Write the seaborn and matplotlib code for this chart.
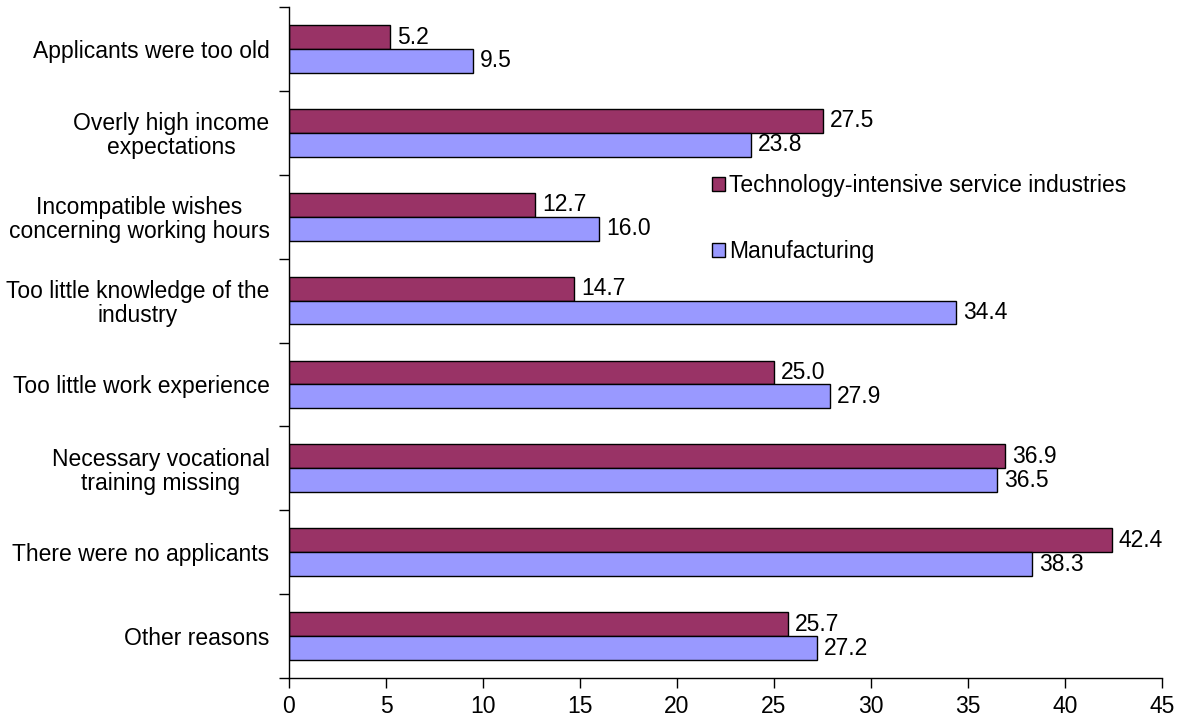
import matplotlib
matplotlib.use("Agg")
import matplotlib.pyplot as plt
import seaborn as sns
import pandas as pd
import numpy as np

categories = [
    "Applicants were too old",
    "Overly high income\nexpectations",
    "Incompatible wishes\nconcerning working hours",
    "Too little knowledge of the\nindustry",
    "Too little work experience",
    "Necessary vocational\ntraining missing",
    "There were no applicants",
    "Other reasons",
]
series_names = ["Technology-intensive service industries", "Manufacturing"]
tech_values = [5.2, 27.5, 12.7, 14.7, 25.0, 36.9, 42.4, 25.7]
manu_values = [9.5, 23.8, 16.0, 34.4, 27.9, 36.5, 38.3, 27.2]
x_ticks = [0, 5, 10, 15, 20, 25, 30, 35, 40, 45]
colors = ["#993366", "#9999FF"]

df = pd.DataFrame({
    "category": categories * 2,
    "series": [series_names[0]] * len(categories) + [series_names[1]] * len(categories),
    "value": tech_values + manu_values,
})

sns.set_style("white")
plt.rcParams["font.family"] = ["Liberation Sans", "DejaVu Sans"]
plt.rcParams["text.color"] = "black"
plt.rcParams["xtick.color"] = "black"
plt.rcParams["ytick.color"] = "black"
plt.rcParams["axes.labelcolor"] = "black"
FS = 16.5

fig = plt.figure(figsize=(11.79, 7.24), dpi=100)
ax = fig.add_axes([0.2451, 0.0635, 0.9856 - 0.2451, 0.9903 - 0.0635])

sns.barplot(data=df, y="category", x="value", hue="series", orient="h",
            palette=colors, saturation=1, width=0.57, edgecolor="black", linewidth=1.0,
            order=categories, hue_order=series_names, ax=ax, legend=True)

for cont in ax.containers:
    ax.bar_label(cont, fmt="%.1f", padding=5, fontsize=FS, color="black")

ax.set_xlim(0, 45)
ax.set_ylim(len(categories) - 0.5, -0.5)
ax.set_xticks(x_ticks)
ax.set_xticklabels([str(t) for t in x_ticks], fontsize=FS)
ax.set_xlabel("")
ax.set_ylabel("")

ax.set_yticks(range(len(categories)))
ax.set_yticklabels(categories, fontsize=FS, multialignment="center", linespacing=1.05)
ax.tick_params(axis="y", which="major", length=0, pad=14)
ax.set_yticks(np.arange(-0.5, len(categories) + 0.5, 1.0), minor=True)
ax.tick_params(axis="y", which="minor", length=7, width=1, color="black", direction="out", left=True)
ax.tick_params(axis="x", which="major", length=7, width=1, color="black", direction="out", bottom=True, pad=5)

for s in ["top", "right"]:
    ax.spines[s].set_visible(False)
for s in ["left", "bottom"]:
    ax.spines[s].set_color("black")
    ax.spines[s].set_linewidth(1.0)
ax.grid(False)

leg = ax.legend(loc="center left", bbox_to_anchor=(0.4845, 0.6845), frameon=False,
                fontsize=FS, handlelength=0.55, handleheight=0.55, handletextpad=0.2,
                labelspacing=1.9, borderaxespad=0, borderpad=0)
for h in leg.legend_handles:
    h.set_edgecolor("black")
    h.set_linewidth(1.0)

fig.savefig("out.png", dpi=100)
